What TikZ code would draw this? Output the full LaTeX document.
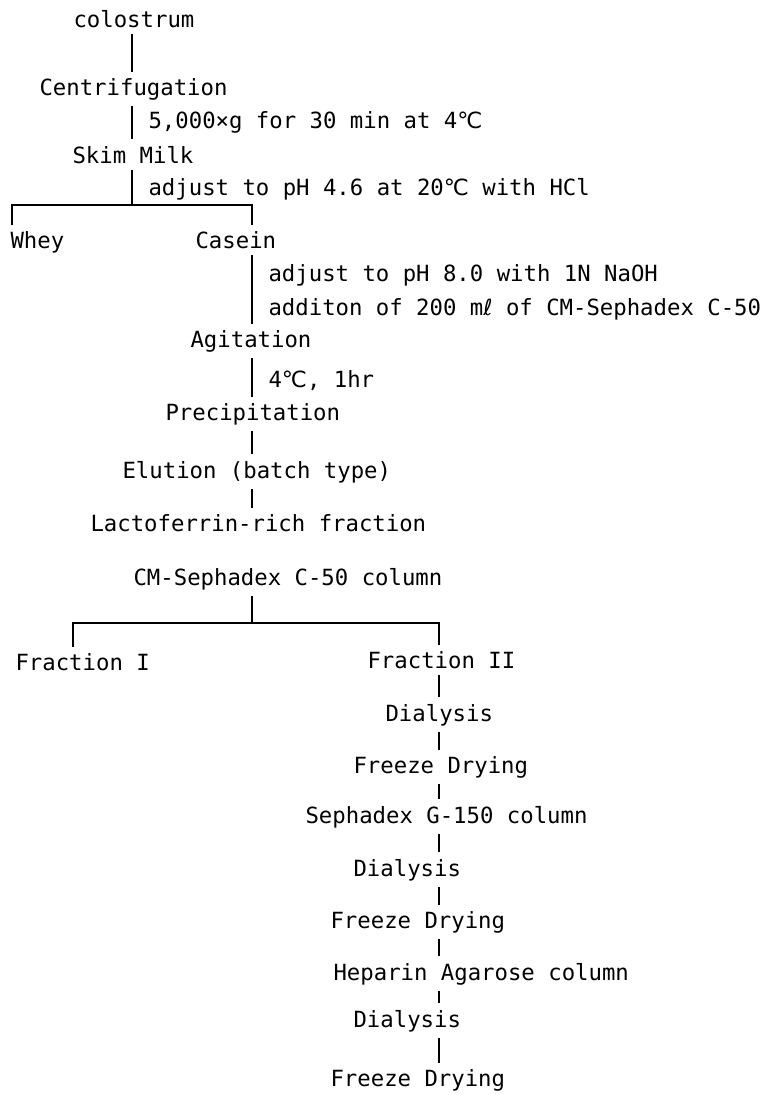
\documentclass[tikz,border=0pt]{standalone}
\usepackage{fontspec}
\setmonofont{DejaVu Sans Mono}
\newfontfamily\degfont{DejaVu Sans}
\newcommand{\dC}{{\degfont ℃}}
\newcommand{\mL}{m{\degfont ℓ}}

\begin{document}
\begin{tikzpicture}[x=1pt,y=-1pt,line width=1.1pt,
	every node/.style={font=\ttfamily\fontsize{22.3}{26}\selectfont,inner xsep=0pt,inner ysep=6pt,anchor=base west}]
	\useasboundingbox (0,0) rectangle (764,1095);
	\coordinate (colA) at (132,0);
	\coordinate (colB) at (252,0);
	\coordinate (colC) at (439,0);
	\coordinate (colL) at (12,0);
	\coordinate (colF) at (73,0);
	\coordinate (splitA) at (132,205);
	\coordinate (splitB) at (252,623);
	\node (colostrum) at (73,27) {colostrum};
	\node (centrif) at (39,95) {Centrifugation};
	\node (skim) at (72,163) {Skim Milk};
	\node (whey) at (10,248) {Whey};
	\node (casein) at (195,248) {Casein};
	\node (agit) at (190,347) {Agitation};
	\node (precip) at (165,420) {Precipitation};
	\node (elution) at (122,478) {Elution (batch type)};
	\node (lacto) at (90,531) {Lactoferrin-rich fraction};
	\node (cmcol) at (133,585) {CM-Sephadex C-50 column};
	\node (fracI) at (15,670) {Fraction I};
	\node (fracII) at (367,668) {Fraction II};
	\node (dialA) at (385,721) {Dialysis};
	\node (dryA) at (353,773) {Freeze Drying};
	\node (gcol) at (305,823) {Sephadex G-150 column};
	\node (dialB) at (353,876) {Dialysis};
	\node (dryB) at (330,928) {Freeze Drying};
	\node (hcol) at (333,980) {Heparin Agarose column};
	\node (dialC) at (353,1027) {Dialysis};
	\node (dryC) at (330,1086) {Freeze Drying};
	\node (labA) at (148,128) {5,000×g for 30 min at 4\dC};
	\node (labB) at (148,195) {adjust to pH 4.6 at 20\dC{} with HCl};
	\node (labC) at (268,281) {adjust to pH 8.0 with 1N NaOH};
	\node (labD) at (268,315) {additon of 200 \mL{} of CM-Sephadex C-50};
	\node (labE) at (268,387) {4\dC, 1hr};
	\draw (colostrum.south -| colA)--(centrif.north -| colA);
	\draw (centrif.south -| colA)--(skim.north -| colA);
	\draw (skim.south -| colA)--(splitA);
	\draw (whey.north -| colL) |- (splitA) -| (casein.north -| colB);
	\foreach \a/\b in {casein/agit,agit/precip,precip/elution,elution/lacto}
	{
	\draw (\a.south -| colB)--(\b.north -| colB);
	}
	\draw (cmcol.south -| colB)--(splitB);
	\draw (fracI.north -| colF) |- (splitB) -| (fracII.north -| colC);
	\foreach \a/\b in {fracII/dialA,dialA/dryA,dryA/gcol,gcol/dialB,dialB/dryB,dryB/hcol,hcol/dialC,dialC/dryC}
	{
	\draw (\a.south -| colC)--(\b.north -| colC);
	}
\end{tikzpicture}
\end{document}
